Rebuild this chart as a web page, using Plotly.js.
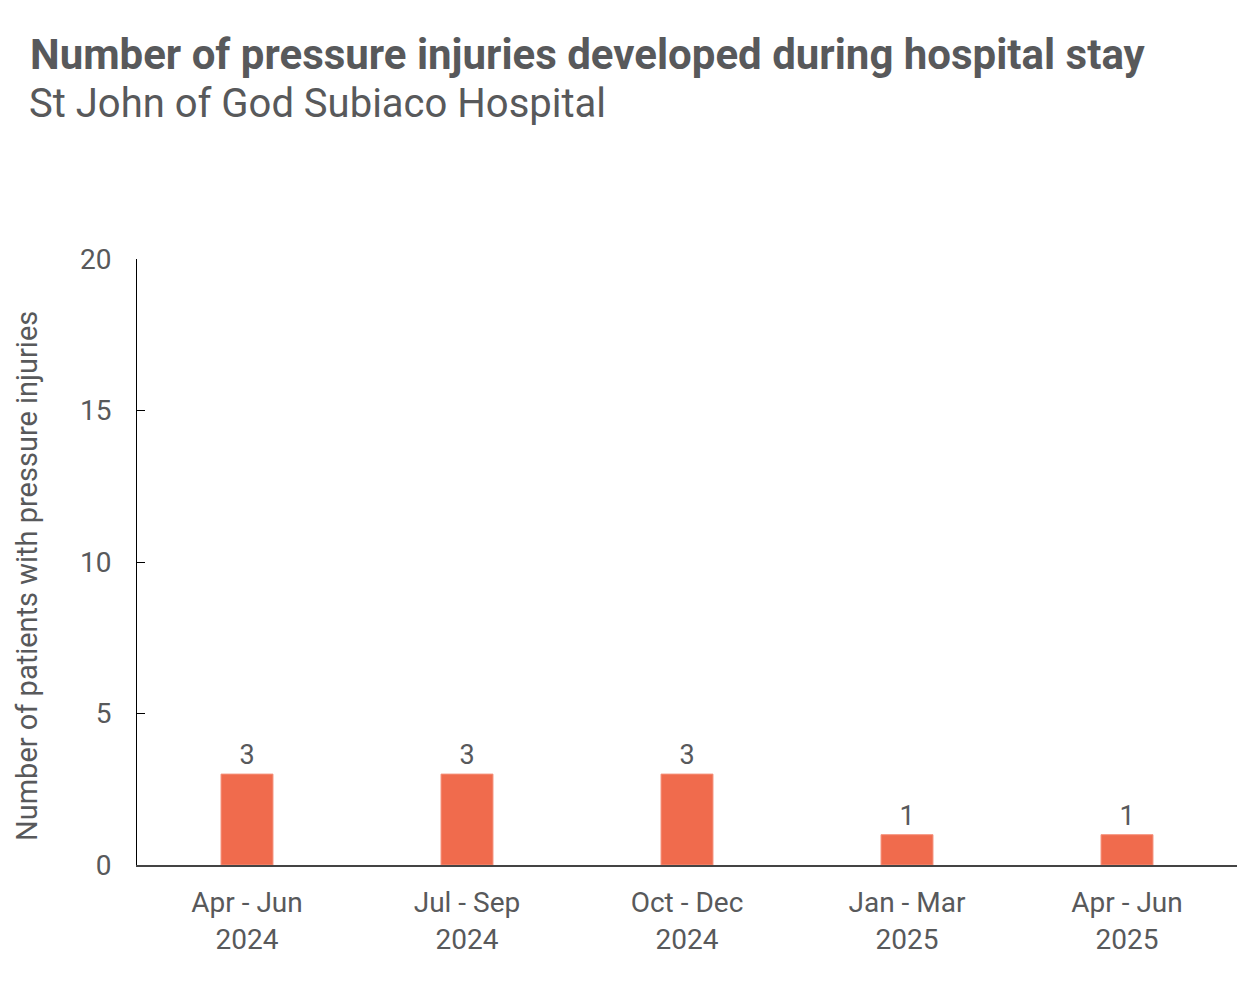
<!DOCTYPE html>
<html>
<head>
<meta charset="utf-8">
<script src="https://cdn.plot.ly/plotly-3.0.1.min.js"></script>
<style>html,body{margin:0;padding:0;background:#fff;}#chart{width:1260px;height:981px;}</style>
</head>
<body>
<div id="chart"></div>
<script>
const categories = ["Apr - Jun<br>2024", "Jul - Sep<br>2024", "Oct - Dec<br>2024", "Jan - Mar<br>2025", "Apr - Jun<br>2025"];
const values = [3, 3, 3, 1, 1];
const yTicks = [0, 5, 10, 15, 20];
const titleText = "Number of pressure injuries developed during hospital stay";
const subtitleText = "St John of God Subiaco Hospital";
const yTitle = "Number of patients with pressure injuries";

const font = "Roboto, 'Noto Sans', sans-serif";
const grey = "#58595B";
const trace = {
  type: "bar",
  x: categories,
  y: values,
  width: 0.236,
  marker: {color: "#F06B4D", line: {color: "#F5907A", width: 1}},
  text: values.map(String),
  textposition: "outside",
  cliponaxis: false,
  textfont: {family: font, size: 27, color: grey},
  hoverinfo: "none"
};
const layout = {
  width: 1260, height: 981,
  margin: {l: 137, r: 23, t: 259, b: 116},
  paper_bgcolor: "#ffffff", plot_bgcolor: "#ffffff",
  showlegend: false,
  font: {family: font, color: grey},
  xaxis: {
    type: "category",
    showline: true, linecolor: "#444444", linewidth: 1.5,
    ticks: "", showgrid: false, zeroline: false,
    ticklabelstandoff: 12,
    tickfont: {family: font, size: 28, color: grey},
    range: [-0.5, 4.5]
  },
  yaxis: {
    range: [0, 20],
    tickvals: yTicks,
    ticktext: yTicks.map(String),
    showline: true, linecolor: "#000000", linewidth: 1,
    ticks: "inside", ticklen: 8, tickcolor: "#000000", tickwidth: 1,
    ticklabelstandoff: 19,
    showgrid: false, zeroline: false,
    tickfont: {family: font, size: 28, color: grey}
  },
  annotations: [
    {text: "<b>" + titleText + "</b>", xref: "paper", yref: "paper", x: 0, y: 0, xanchor: "left", yanchor: "middle",
     showarrow: false, font: {family: font, size: 42, color: grey}},
    {text: subtitleText, xref: "paper", yref: "paper", x: 0, y: 0, xanchor: "left", yanchor: "middle",
     showarrow: false, font: {family: font, size: 40, color: grey}},
    {text: yTitle, xref: "paper", yref: "paper", x: 0, y: 0, xanchor: "center", yanchor: "middle", textangle: -90,
     showarrow: false, font: {family: font, size: 29, color: grey}}
  ]
};
const plotH = 981 - 259 - 116, plotW = 1260 - 137 - 23;
function py(pix) { return (981 - 116 - pix) / plotH; }
function px(pix) { return (pix - 137) / plotW; }
layout.annotations[0].x = px(28);
layout.annotations[0].y = py(54);
layout.annotations[1].x = px(27);
layout.annotations[1].y = py(103);
layout.annotations[2].x = px(27);
layout.annotations[2].y = py(576);
Plotly.newPlot("chart", [trace], layout, {staticPlot: true});
</script>
</body>
</html>
